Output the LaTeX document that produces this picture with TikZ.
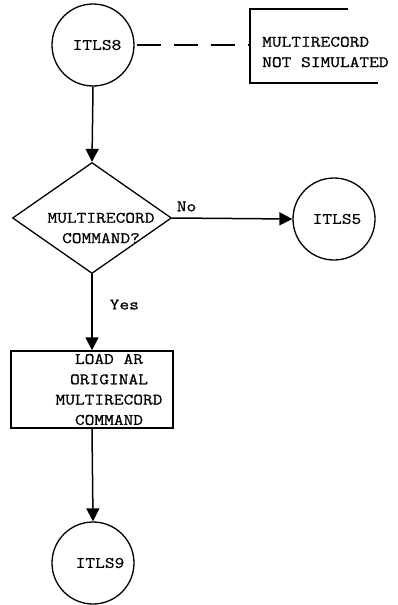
\documentclass[tikz,border=0pt]{standalone}
\usepackage{fontspec}
\setmonofont[FakeStretch=1.18,FakeBold=0.8]{Latin Modern Mono}
\usetikzlibrary{shapes.geometric,arrows.meta}
\begin{document}
\begin{tikzpicture}[x=1pt,y=-1pt,
  every node/.style={font=\ttfamily\fontsize{16}{20.3}\selectfont},
  conn/.style={draw, line width=1.5pt},
  arr/.style={conn, -{Triangle[length=13pt,width=13pt]}},
  term/.style={circle, draw, line width=1.3pt, minimum size=82pt, inner sep=0pt},
  decide/.style={diamond, draw, line width=1.3pt, minimum width=159pt, minimum height=111pt, aspect=1.43, inner sep=0pt},
  procbox/.style={rectangle, draw, line width=1.5pt, minimum width=162pt, minimum height=77pt, inner sep=0pt},
  lbl/.style={inner sep=0pt}]
\useasboundingbox (0,0) rectangle (398,605);
\node[term] (c8) at (93,45) {\hspace*{8pt}ITLS8};
\node[decide] (d) at (92,218) {};
\node[lbl, align=center] (dt) at (101,228) {MULTIRECORD\\COMMAND?};
\node[term] (c5) at (334,219) {\hspace*{6pt}ITLS5};
\node[procbox] (b) at (92,389.5) {};
\node[lbl, align=center] (bt) at (109,389.5) {LOAD AR\\ORIGINAL\\MULTIRECORD\\COMMAND};
\node[term] (c9) at (93,563) {\hspace*{14pt}ITLS9};
% annotation bracket
\coordinate (br) at (250,45);
\draw[line width=1.3pt] (348,9) -- (250,9) -- (250,83) -- (378,83);
\node[lbl, align=left, anchor=west] (note) at (262,52) {MULTIRECORD\\NOT SIMULATED};
\draw[line width=1.3pt, dash pattern=on 24pt off 13pt, dash phase=-2pt] (c8.east) -- (br);
% flow
\draw[arr] (c8.south) -- (d.north);
\draw[arr] (d.east) -- (c5.west) node[lbl, pos=0.12, above=6pt] (no) {No};
\draw[arr] (d.south) -- (b.north) node[lbl, pos=0.4, right=17pt] (yes) {Yes};
\draw[arr] (b.south) -- (c9.north);
\end{tikzpicture}
\end{document}
